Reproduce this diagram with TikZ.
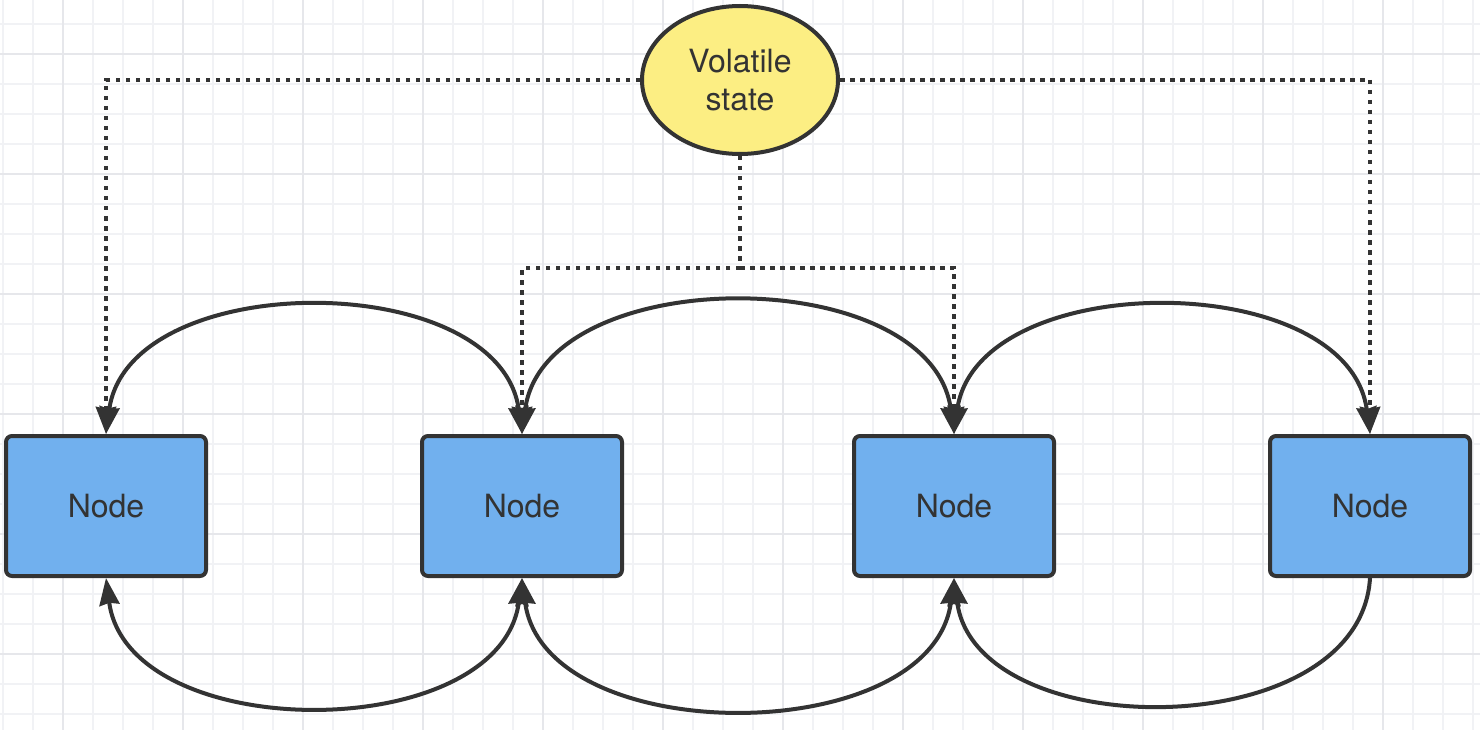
\documentclass[tikz,border=0pt]{standalone}
\usepackage{fontspec}
\setmainfont{TeX Gyre Heros}
\usetikzlibrary{arrows.meta,shapes.geometric}
\definecolor{boxfill}{HTML}{71B0EE}
\definecolor{yel}{HTML}{FCEE83}
\definecolor{dark}{HTML}{333333}
\definecolor{gridminor}{HTML}{F1F2F5}
\definecolor{gridmajor}{HTML}{E6E7EB}
\tikzset{
  boxnode/.style={draw=dark, line width=4pt, fill=boxfill, rounded corners=6pt,
    minimum width=200pt, minimum height=140pt, inner sep=0pt, text=dark,
    font=\fontsize{32}{38}\selectfont},
  statenode/.style={ellipse, draw=dark, line width=4pt, fill=yel,
    minimum width=196pt, minimum height=148pt, inner sep=0pt, text=dark,
    align=center, font=\fontsize{32}{38}\selectfont},
  headend/.style={-{Stealth[length=27pt,width=20pt,inset=2pt]}},
  headboth/.style={{Stealth[length=27pt,width=20pt,inset=2pt]}-{Stealth[length=27pt,width=20pt,inset=2pt]}},
  curveline/.style={draw=dark, line width=4pt},
  dotline/.style={draw=dark, line width=4.5pt, dash pattern=on 4.5pt off 5.5pt},
}
\begin{document}
\begin{tikzpicture}[x=1pt,y=-1pt]
\useasboundingbox (0,0) rectangle (1480,730);
\fill[white] (0,0) rectangle (1480,730);
% grid
\foreach \x in {3,33,...,1480} \draw[gridminor, line width=1.5pt] (\x,0) -- (\x,730);
\foreach \y in {24,54,...,730} \draw[gridminor, line width=1.5pt] (0,\y) -- (1480,\y);
\foreach \x in {63,183,...,1480} \draw[gridmajor, line width=1.8pt] (\x,0) -- (\x,730);
\foreach \y in {54,174,...,730} \draw[gridmajor, line width=1.8pt] (0,\y) -- (1480,\y);

% nodes
\node[boxnode] (n1) at (106,506) {Node};
\node[boxnode] (n2) at (522,506) {Node};
\node[boxnode] (n3) at (954,506) {Node};
\node[boxnode] (n4) at (1370,506) {Node};
\node[statenode] (vs) at (740,80) {Volatile\\state};
\coordinate (j) at (740,268);

% dotted connectors
\draw[dotline, headend] (vs.west) -| (n1.north);
\draw[dotline, headend] (vs.east) -| (n4.north);
\draw[dotline] (vs.south) -- (j);
\draw[dotline, headend] (j) -| (n2.north);
\draw[dotline, headend] (j) -| (n3.north);

% top curves
\draw[curveline, headboth] (n1.north) .. controls +(22,-167) and +(-22,-167) .. (n2.north);
\draw[curveline, headboth] (n2.north) .. controls +(22,-173) and +(-22,-173) .. (n3.north);
\draw[curveline, headboth] (n3.north) .. controls +(22,-167) and +(-22,-167) .. (n4.north);

% bottom curves
\draw[curveline, headboth] (n1.south) .. controls +(22,168) and +(-22,168) .. (n2.south);
\draw[curveline, headboth] (n2.south) .. controls +(22,172) and +(-22,172) .. (n3.south);
\draw[curveline, headend] (n4.south) .. controls +(-10,168) and +(22,168) .. (n3.south);
\end{tikzpicture}
\end{document}
